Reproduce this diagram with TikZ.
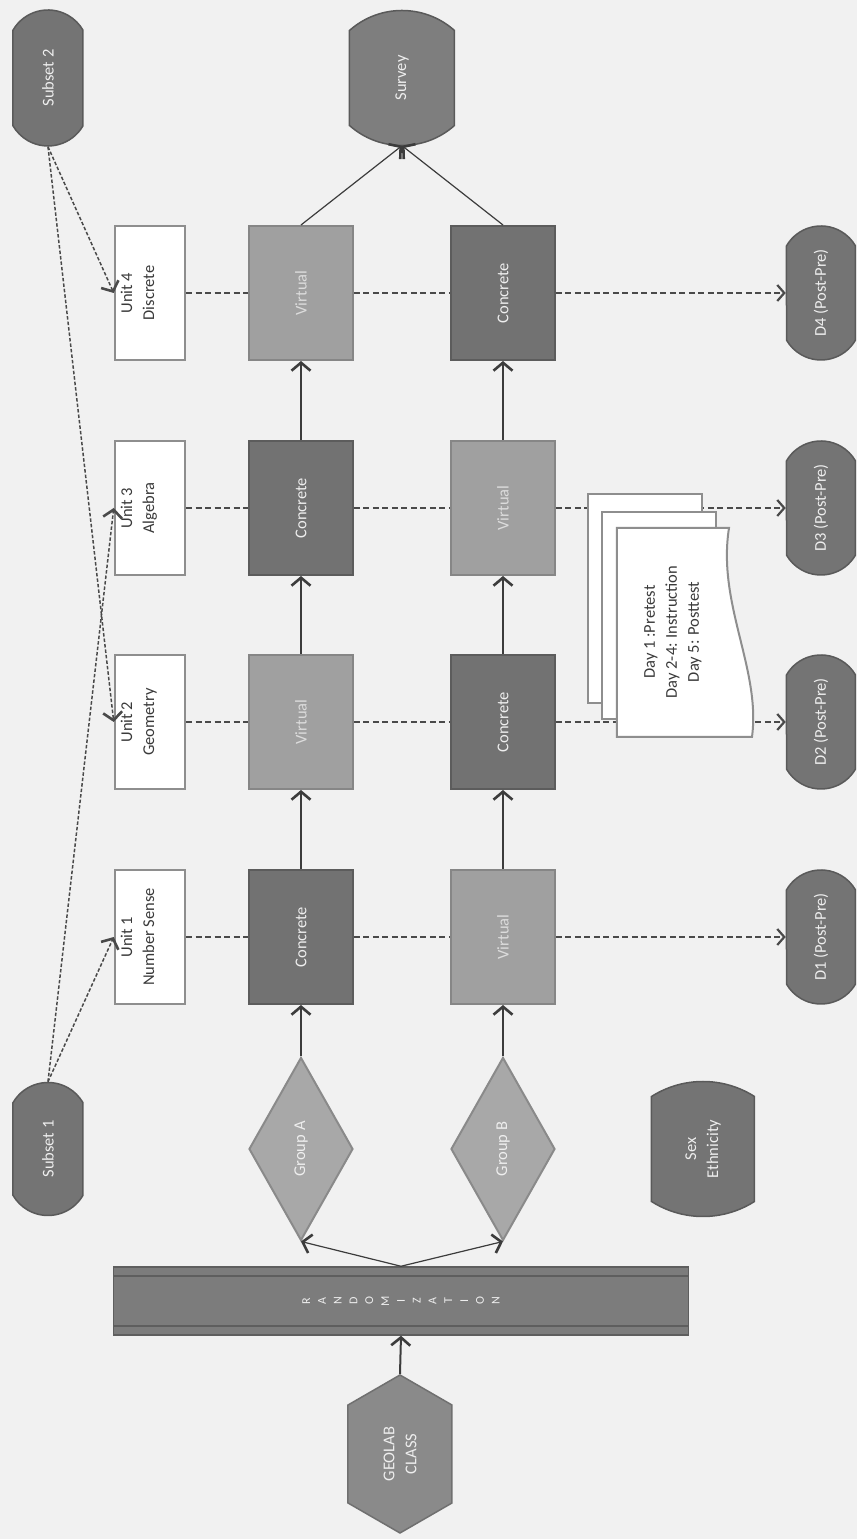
\documentclass[tikz,border=0pt]{standalone}
\usepackage{fontspec}
\setmainfont{Carlito}
\usetikzlibrary{arrows.meta,shapes.misc,shapes.geometric,shapes.symbols}
\definecolor{bgc}{HTML}{F1F1F1}
\definecolor{cconc}{HTML}{727272}
\definecolor{cconcd}{HTML}{5C5C5C}
\definecolor{cvirt}{HTML}{A0A0A0}
\definecolor{cvirtd}{HTML}{868686}
\definecolor{cgrp}{HTML}{A8A8A8}
\definecolor{cgrpd}{HTML}{8A8A8A}
\definecolor{cterm}{HTML}{747474}
\definecolor{ctermd}{HTML}{5A5A5A}
\definecolor{csurv}{HTML}{7E7E7E}
\definecolor{crand}{HTML}{7C7C7C}
\definecolor{crandd}{HTML}{5E5E5E}
\definecolor{cgeo}{HTML}{8A8A8A}
\definecolor{cgeod}{HTML}{707070}
\definecolor{cunit}{HTML}{8E8E8E}
\definecolor{ctxt}{HTML}{EEEEEE}
\definecolor{ctxtv}{HTML}{DCDCDC}
\definecolor{cdark}{HTML}{3A3A3A}
\definecolor{cline}{HTML}{3C3C3C}
\definecolor{cdash}{HTML}{4A4A4A}
% terminal outline with shallow circular ends: cx, cy, W, H, sagitta, style
\newcommand\mytermpath[6]{%
  \pgfmathsetmacro\mtR{((#4/2)^2+(#5)^2)/(2*#5)}%
  \pgfmathsetmacro\mtA{asin((#4/2)/\mtR)}%
  \pgfmathsetmacro\mtXr{#1+#3/2-#5}%
  \pgfmathsetmacro\mtXl{#1-#3/2+#5}%
  \pgfmathsetmacro\mtYt{#2+#4/2}%
  \pgfmathsetmacro\mtYb{#2-#4/2}%
  \filldraw[#6] (\mtXl,\mtYt) -- (\mtXr,\mtYt) arc[start angle=\mtA, end angle=-\mtA, radius=\mtR]
     -- (\mtXl,\mtYb) arc[start angle=180+\mtA, end angle=180-\mtA, radius=\mtR] -- cycle;}
\begin{document}
\begin{tikzpicture}[x=1pt,y=1pt,rotate=90,transform shape,
  lbl/.style={font=\fontsize{16.5}{22}\selectfont, align=center},
  box/.style={rectangle, minimum width=134pt, minimum height=104pt, inner sep=0pt, line width=2pt, lbl},
  conc/.style={box, fill=cconc, draw=cconcd, text=ctxt},
  virt/.style={box, fill=cvirt, draw=cvirtd, text=ctxtv},
  unitbox/.style={rectangle, minimum width=134pt, minimum height=70pt, inner sep=0pt, fill=white, draw=cunit, line width=2.5pt, lbl, text=cdark},
  term/.style={rounded rectangle, rounded rectangle arc length=120, minimum width=134pt, minimum height=70pt, inner sep=0pt, line width=1.5pt, fill=cterm, draw=ctermd, lbl, text=ctxt},
  termline/.style={line width=1.5pt, draw=ctermd},
  grp/.style={diamond, minimum width=183pt, minimum height=104pt, inner sep=0pt, fill=cgrp, draw=cgrpd, line width=2pt, lbl, text=ctxt},
  flow/.style={draw=cline, line width=2pt, -{Straight Barb[length=8pt,width=19pt,line width=2.6pt]}},
  thinflow/.style={draw=cline, line width=1.2pt, -{Straight Barb[length=8pt,width=19pt,line width=2.6pt]}},
  rowdash/.style={draw=cdash, line width=1.5pt, dash pattern=on 6pt off 3.5pt},
  rowarrow/.style={rowdash, -{Straight Barb[length=7pt,width=16pt,line width=2.2pt]}},
  subdash/.style={draw=cdash, line width=1.5pt, dash pattern=on 3.5pt off 2pt, -{Straight Barb[length=8pt,width=19pt,line width=2.6pt]}},
  docpage/.style={fill=white, draw=cunit, line width=2pt}
]
\fill[bgc] (0,0) rectangle (1539,857);
\useasboundingbox (0,0) rectangle (1539,857);

% units
\node[unitbox] (u1) at (602,707) {\raisebox{7pt}[0pt][0pt]{\begin{tabular}{@{}c@{}}Unit 1\\Number Sense\end{tabular}}};
\node[unitbox] (u2) at (817,707) {\raisebox{7pt}[0pt][0pt]{\begin{tabular}{@{}c@{}}Unit 2\\Geometry\end{tabular}}};
\node[unitbox] (u3) at (1031,707) {\raisebox{7pt}[0pt][0pt]{\begin{tabular}{@{}c@{}}Unit 3\\Algebra\end{tabular}}};
\node[unitbox] (u4) at (1246,707) {\raisebox{7pt}[0pt][0pt]{\begin{tabular}{@{}c@{}}Unit 4\\Discrete\end{tabular}}};

% group A row
\node[conc] (a1) at (602,556) {Concrete};
\node[virt] (a2) at (817,556) {Virtual};
\node[conc] (a3) at (1031,556) {Concrete};
\node[virt] (a4) at (1246,556) {Virtual};
% group B row
\node[virt] (b1) at (602,354) {Virtual};
\node[conc] (b2) at (817,354) {Concrete};
\node[virt] (b3) at (1031,354) {Virtual};
\node[conc] (b4) at (1246,354) {Concrete};

% outcomes
\node[term, minimum height=69pt] (d1) at (602,36) {D1 (Post-Pre)};
\node[term, minimum height=69pt] (d2) at (817,36) {D2 (Post-Pre)};
\node[term, minimum height=69pt] (d3) at (1031,36) {D3 (Post-Pre)};
\node[term, minimum height=69pt] (d4) at (1246,36) {D4 (Post-Pre)};

% subsets
\node[term, minimum width=133pt] (s1) at (390,809) {Subset 1};
\node[term, minimum width=136pt] (s2) at (1461,809) {Subset 2};

% survey and sex/ethnicity (shallow ends)
\mytermpath{1461}{455}{135}{105}{20}{termline, fill=csurv}
\node[rectangle, minimum width=135pt, minimum height=105pt, inner sep=0pt, lbl, text=ctxt] (survey) at (1461,455) {Survey};
\mytermpath{390}{154}{135}{103}{15}{termline, fill=cterm}
\node[rectangle, minimum width=135pt, minimum height=103pt, inner sep=0pt, lbl, text=ctxt] (sex) at (390,154) {Sex\\Ethnicity};

% groups
\node[grp] (ga) at (390,556) {Group A};
\node[grp] (gb) at (390,354) {Group B};

% randomization bar
\node[rectangle, minimum width=68pt, minimum height=575pt, inner sep=0pt, fill=crand, draw=crandd, line width=1.5pt,
      font=\fontsize{12}{15.8}\selectfont, align=center, text=ctxt] (rand) at (238,456)
      {R\\A\\N\\D\\O\\M\\I\\Z\\A\\T\\I\\O\\N};
\draw[crandd, line width=1.5pt] (213,168.5) -- (213,743.5);
\draw[crandd, line width=1.5pt] (263,168.5) -- (263,743.5);

% geolab class
\node[signal, signal to=east and west, signal pointer angle=120, minimum width=158pt, minimum height=104pt, inner sep=0pt,
      fill=cgeo, draw=cgeod, line width=1.5pt, lbl, text=ctxt] (geo) at (85,457) {GEOLAB\\CLASS};

% solid connectors
\draw[flow] (geo.east) -- (rand.west);
\draw[thinflow] (rand.east) -- (ga.west);
\draw[thinflow] (rand.east) -- (gb.west);
\draw[flow] (ga.east) -- (a1.west);
\draw[flow] (gb.east) -- (b1.west);
\draw[flow] (a1.east) -- (a2.west);
\draw[flow] (a2.east) -- (a3.west);
\draw[flow] (a3.east) -- (a4.west);
\draw[flow] (b1.east) -- (b2.west);
\draw[flow] (b2.east) -- (b3.west);
\draw[flow] (b3.east) -- (b4.west);
\draw[thinflow] (a4.east) -- (survey.west);
\draw[thinflow] (b4.east) -- (survey.west);

% dashed rows
\foreach \i in {1,2,3,4}{
  \draw[rowdash] (u\i.south) -- (a\i.north);
  \draw[rowdash] (a\i.south) -- (b\i.north);
  \draw[rowarrow] (b\i.south) -- (d\i.north);
}

% subset connectors
\draw[subdash] (s1.east) -- (u1.north);
\draw[subdash] (s1.east) -- (u3.north);
\draw[subdash] (s2.west) -- (u4.north);
\draw[subdash] (s2.west) -- (u2.north);

% stacked documents
\draw[docpage] (836,155) rectangle (1045,269);
\draw[docpage] (820,141) rectangle (1027,255);
\draw[docpage] (802,240) -- (1011,240) -- (1011,128) .. controls (935,140) and (870,96) .. (802,105) -- cycle;
\node[lbl, text=cdark] (doc) at (907,184) {Day 1 :Pretest\\Day 2-4: Instruction\\Day 5: Posttest};
\end{tikzpicture}
\end{document}
